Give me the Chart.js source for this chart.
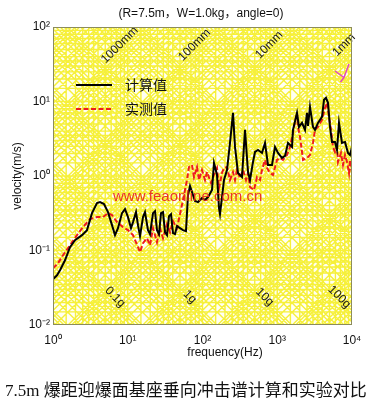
<!DOCTYPE html>
<html><head><meta charset="utf-8">
<script src="https://cdn.jsdelivr.net/npm/chart.js@4.4.0/dist/chart.umd.min.js"></script>
<style>html,body{margin:0;padding:0;background:#fff;}</style>
</head><body>
<canvas id="c" width="380" height="405"></canvas>
<script>
// ---- data ----
const seriesNames = ['计算值', '实测值'];
const freqCalc = [1.00,1.131,1.241,1.447,1.688,1.969,2.443,2.850,3.324,3.878,4.255,4.812,5.443,6.156,6.752,7.405,8.376,9.189,10.08,11.05,11.75,12.90,13.71,14.59,16.00,17.01,18.66,19.85,21.77,23.15,24.62,26.18,27.85,29.62,31.50,33.50,35.63,37.89,40.31,42.87,45.60,50.00,54.83,60.14,63.97,68.04,74.63,79.38,87.07,98.46,108.0,118.5,134.0,142.5,156.3,166.2,171.4,182.4,193.9,212.7,233.3,255.9,272.2,298.6,337.6,370.4,406.2,432.0,473.9,504.1,552.7,625.2,685.7,752.0,850.6,933.0,1023,1157,1270,1393,1575,1624,1837,1954,2144,2351,2500,2578,2742,3007,3199,3508,3968,4221,4489,4775,5078,5401,5924,6300,6700,7348,8061,8842,9402,10000];
const velCalc = [0.0411,0.0465,0.0543,0.0740,0.1108,0.1376,0.1607,0.1876,0.3177,0.4331,0.4467,0.4199,0.3277,0.2190,0.1607,0.1996,0.3177,0.3597,0.2806,0.1996,0.2404,0.3277,0.2190,0.1558,0.2806,0.3277,0.1876,0.1657,0.3177,0.3381,0.1876,0.1657,0.3177,0.3277,0.1763,0.1607,0.2895,0.3080,0.1709,0.1657,0.2124,0.1996,0.1876,0.1818,0.5549,0.7333,0.5549,0.4609,0.4467,0.5058,0.4753,0.5218,0.6479,1.496,1.032,0.3710,0.3080,0.5218,0.8835,1.204,2.780,7.045,2.456,1.097,0.9695,4.160,1.132,0.8835,1.543,2.104,2.239,2.039,2.780,1.406,1.406,2.456,2.039,1.747,1.858,2.780,2.456,4.160,7.045,4.566,5.168,4.160,7.045,4.710,8.486,4.566,4.160,5.168,6.224,10.54,11.21,9.605,4.566,2.868,2.868,2.239,5.168,2.780,2.868,2.039,1.917,2.456];
const freqMeas = [1.00,1.167,1.361,1.688,2.095,2.520,3.126,3.878,4.667,5.443,6.156,7.181,8.642,10.08,11.75,13.71,14.59,16.00,18.09,19.85,21.77,24.62,27.01,29.62,33.50,36.75,40.31,45.60,50.00,54.83,62.03,65.98,72.36,76.96,84.43,89.81,98.46,108.0,114.9,129.9,138.2,156.3,166.2,182.4,193.9,212.7,233.3,255.9,272.2,289.5,317.6,348.3,382.0,406.2,432.0,488.7,536.0,587.9,625.2,685.7,729.3,799.8,877.3,992.4,1089,1194,1350,1481,1624,1728,1837,1895,2016,2144,2211,2500,2742,3007,3199,3508,3968,4354,4630,4924,5237,5569,5924,6300,6499,7127,7579,8061,8574,9118,9402,10000];
const velMeas = [0.0578,0.0675,0.0865,0.1178,0.1607,0.2059,0.2638,0.2806,0.2806,0.3177,0.2987,0.2404,0.2059,0.1876,0.1607,0.1108,0.0949,0.1253,0.1464,0.1178,0.1996,0.1293,0.1996,0.1464,0.2259,0.1763,0.2478,0.1996,0.3080,0.4753,0.8835,1.322,1.406,0.9695,1.322,0.8835,1.204,0.8835,1.132,0.8051,0.9695,1.281,0.6895,1.097,1.281,1.322,0.8835,1.132,0.8835,1.204,0.9399,1.204,0.8835,1.097,0.7111,0.6479,0.9695,0.8835,1.204,1.642,1.281,1.097,1.032,1.642,1.747,1.642,1.917,2.456,3.791,5.332,7.045,4.566,3.349,2.104,1.642,1.747,1.917,2.780,4.160,4.566,5.672,8.227,9.605,6.224,4.160,2.456,2.104,2.456,1.543,2.039,1.406,1.917,1.543,1.097,1.642,1.097];
const xTickValues = [1, 10, 100, 1000, 10000];
const xTickLabels = ['10⁰', '10¹', '10²', '10³', '10⁴'];
const yTickValues = [0.01, 0.1, 1, 10, 100];
const yTickLabels = ['10⁻²', '10⁻¹', '10⁰', '10¹', '10²'];
const gridSteps = [1, 1.5, 2, 2.5, 3, 3.5, 4, 5, 6, 7, 8, 9];
const dispValuesM = [1, 0.1, 0.01, 0.001];
const dispLabels = ['1000mm', '100mm', '10mm', '1mm'];
const accValuesG = [0.1, 1, 10, 100];
const accLabels = ['0.1g', '1g', '10g', '100g'];
const chartTitle = '(R=7.5m，W=1.0kg，angle=0)';
const xTitle = 'frequency(Hz)';
const yTitle = 'velocity(m/s)';
const caption = '7.5m 爆距迎爆面基座垂向冲击谱计算和实验对比';
const watermark = 'www.feaonline.com.cn';

// ---- styling ----
const SANS = "'Liberation Sans', Arial, sans-serif";
const GRID = '#f6f03a';
const RED = '#ee1c1c';

const toPts = (fs, vs) => fs.map((f, i) => ({x: f, y: vs[i]}));

const tripartite = {
  id: 'tripartite',
  beforeDatasetsDraw(chart) {
    const {ctx, chartArea: a, scales: {x, y}} = chart;
    ctx.save();
    ctx.beginPath(); ctx.rect(a.left, a.top, a.right - a.left, a.bottom - a.top); ctx.clip();
    ctx.fillStyle = '#fffff2';
    ctx.fillRect(a.left, a.top, a.right - a.left, a.bottom - a.top);
    ctx.strokeStyle = GRID; ctx.lineWidth = 1.4;
    ctx.beginPath();
    for (let e = 0; e < 4; e++) gridSteps.forEach(k => {
      const px = x.getPixelForValue(k * Math.pow(10, e));
      ctx.moveTo(px, a.top); ctx.lineTo(px, a.bottom);
    });
    for (let e = -2; e < 2; e++) gridSteps.forEach(k => {
      const py = y.getPixelForValue(k * Math.pow(10, e));
      ctx.moveTo(a.left, py); ctx.lineTo(a.right, py);
    });
    const TP = 2 * Math.PI, G = 9.81, f0 = 0.1, f1 = 1e5;
    for (let e = -9; e <= 3; e++) gridSteps.forEach(k => {
      const d = k * Math.pow(10, e);
      ctx.moveTo(x.getPixelForValue(f0), y.getPixelForValue(TP * f0 * d));
      ctx.lineTo(x.getPixelForValue(f1), y.getPixelForValue(TP * f1 * d));
    });
    for (let e = -5; e <= 7; e++) gridSteps.forEach(k => {
      const A = k * Math.pow(10, e) * G;
      ctx.moveTo(x.getPixelForValue(f0), y.getPixelForValue(A / (TP * f0)));
      ctx.lineTo(x.getPixelForValue(f1), y.getPixelForValue(A / (TP * f1)));
    });
    ctx.stroke();
    ctx.restore();
    // diagonal labels
    ctx.save();
    ctx.fillStyle = '#1a1a1a';
    ctx.font = '12px ' + SANS;
    ctx.textAlign = 'center'; ctx.textBaseline = 'middle';
    const yTop = a.top + 18;
    const vTop = y.getValueForPixel(yTop);
    dispValuesM.forEach((d, i) => {
      const px = x.getPixelForValue(vTop / (TP * d)) - 5;
      ctx.save(); ctx.translate(px, yTop); ctx.rotate(-Math.PI / 4);
      ctx.fillText(dispLabels[i], 0, 0); ctx.restore();
    });
    const yBot = a.bottom - 28;
    const vBot = y.getValueForPixel(yBot);
    accValuesG.forEach((g, i) => {
      const px = x.getPixelForValue(g * G / (TP * vBot)) + 1;
      ctx.save(); ctx.translate(px, yBot); ctx.rotate(Math.PI / 4);
      ctx.fillText(accLabels[i], 0, 0); ctx.restore();
    });
    ctx.restore();
  },
  afterDatasetsDraw(chart) {
    const {ctx, chartArea: a} = chart;
    ctx.save();
    // frame
    ctx.strokeStyle = '#8c8c5a'; ctx.lineWidth = 1;
    ctx.strokeRect(a.left + 0.5, a.top + 0.5, a.right - a.left - 1, a.bottom - a.top - 1);
    // legend
    const ds = chart.data.datasets;
    const lx = a.left + 23, rows = [a.top + 58, a.top + 82];
    ds.forEach((d, i) => {
      ctx.strokeStyle = d.borderColor; ctx.lineWidth = d.borderWidth;
      ctx.setLineDash(d.borderDash || []);
      ctx.beginPath(); ctx.moveTo(lx, rows[i]); ctx.lineTo(lx + 36, rows[i]); ctx.stroke();
      ctx.setLineDash([]);
      ctx.fillStyle = '#111';
      ctx.font = "14px 'Noto Sans CJK SC', sans-serif";
      ctx.textAlign = 'left'; ctx.textBaseline = 'middle';
      ctx.fillText(d.label, lx + 49, rows[i]);
    });
    // watermark
    ctx.fillStyle = 'rgba(232,36,30,0.92)';
    ctx.font = '15px ' + SANS;
    ctx.textAlign = 'left'; ctx.textBaseline = 'middle';
    ctx.fillText(watermark, 113, 197);
    // small magenta mark
    ctx.strokeStyle = '#e040c8'; ctx.lineWidth = 1.4;
    ctx.beginPath(); ctx.moveTo(335, 71); ctx.lineTo(344, 77.5); ctx.lineTo(349, 64);
    ctx.moveTo(344, 77.5); ctx.lineTo(340.5, 82); ctx.stroke();
    ctx.restore();
  },
  afterDraw(chart) {
    const {ctx} = chart;
    ctx.save();
    ctx.fillStyle = '#111';
    ctx.textAlign = 'center'; ctx.textBaseline = 'middle';
    ctx.font = "12px 'Liberation Sans', 'Noto Sans CJK SC', sans-serif";
    ctx.fillText(chartTitle, 201, 14);
    ctx.font = '12px ' + SANS;
    ctx.fillText(xTitle, 225, 353);
    ctx.font = "17px 'Liberation Serif', 'Noto Sans CJK SC', serif";
    ctx.textAlign = 'left';
    ctx.fillText(caption, 5, 392);
    ctx.restore();
  }
};

new Chart(document.getElementById('c'), {
  type: 'line',
  data: {
    datasets: [
      {label: seriesNames[0], data: toPts(freqCalc, velCalc), borderColor: '#000000', borderWidth: 2,
       pointRadius: 0, tension: 0, fill: false},
      {label: seriesNames[1], data: toPts(freqMeas, velMeas), borderColor: RED, borderWidth: 2,
       borderDash: [5, 2.5], pointRadius: 0, tension: 0, fill: false}
    ]
  },
  options: {
    responsive: false, animation: false, devicePixelRatio: 1,
    layout: {padding: {left: 0, right: 28, top: 27, bottom: 32}},
    plugins: {legend: {display: false}, tooltip: {enabled: false}, title: {display: false}},
    scales: {
      x: {
        type: 'logarithmic', min: 1, max: 10000, position: 'bottom',
        grid: {display: false, drawTicks: false}, border: {display: false},
        afterBuildTicks: s => { s.ticks = xTickValues.map(v => ({value: v})); },
        afterFit: s => { s.height = 48; },
        ticks: {autoSkip: false, maxRotation: 0, padding: 8, color: '#111',
                font: {family: SANS, size: 12},
                callback: (v, i) => xTickLabels[i]},
        title: {display: false}
      },
      y: {
        type: 'logarithmic', min: 0.01, max: 100, position: 'left',
        grid: {display: false, drawTicks: false}, border: {display: false},
        afterBuildTicks: s => { s.ticks = yTickValues.map(v => ({value: v})); },
        afterFit: s => { s.width = 53; },
        ticks: {autoSkip: false, padding: 3, color: '#111',
                font: {family: SANS, size: 12},
                callback: (v, i) => yTickLabels[i]},
        title: {display: true, text: yTitle, color: '#111',
                font: {family: SANS, size: 12}, padding: {top: 10, bottom: 0}}
      }
    }
  },
  plugins: [tripartite]
});
</script>
</body></html>
